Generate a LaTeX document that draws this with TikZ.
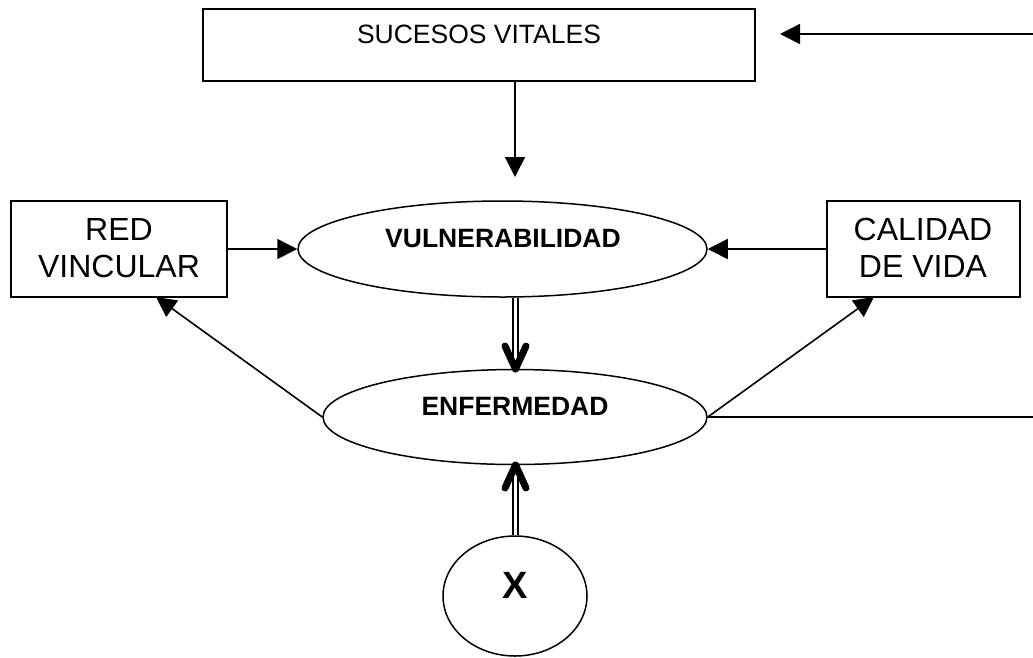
\documentclass[tikz,border=0pt]{standalone}
\usepackage{fontspec}
\setmainfont{Liberation Sans}
\usetikzlibrary{shapes.geometric,arrows.meta}
\begin{document}
\begin{tikzpicture}[x=1pt,y=-1pt,
 box/.style={draw,line width=1.9pt,inner sep=0pt,align=center},
 oval/.style={draw,line width=1.5pt,ellipse,inner sep=0pt},
 lbl/.style={inner sep=0pt,align=center},
 arr/.style={line width=1.6pt,-{Triangle[length=20pt,width=20pt]}},
 plainline/.style={line width=1.6pt},
 dbl/.style={double,double distance=3.4pt,line width=1.8pt},
 vee/.style={line width=7pt,line cap=round,line join=round}]
\useasboundingbox (0,0) rectangle (1033,657);
\node[box,minimum width=552pt,minimum height=72pt] (suc) at (479,45) {};
\node[lbl,font=\fontsize{26.5}{30}\selectfont] (suct) at (479,34) {SUCESOS VITALES};
\node[box,minimum width=216pt,minimum height=96pt] (red) at (119,249) {};
\node[lbl,font=\fontsize{32}{37.5}\selectfont] (redt) at (119,248) {RED\\VINCULAR};
\node[box,minimum width=193pt,minimum height=96pt] (cal) at (923.5,249) {};
\node[lbl,font=\fontsize{32}{37.5}\selectfont] (calt) at (923,248) {CALIDAD\\DE VIDA};
\node[oval,minimum width=409pt,minimum height=96pt] (vul) at (502.5,249) {};
\node[lbl,font=\bfseries\fontsize{26.5}{30}\selectfont] (vult) at (503,239) {VULNERABILIDAD};
\node[oval,minimum width=384pt,minimum height=95pt] (enf) at (515,417) {};
\node[lbl,font=\bfseries\fontsize{26.5}{30}\selectfont] (enft) at (515,406.5) {ENFERMEDAD};
\node[oval,minimum width=144pt,minimum height=120pt] (x) at (515,596) {};
\node[lbl,font=\bfseries\fontsize{38}{42}\selectfont] (xt) at (515.5,585) {X};
\coordinate (c1) at (1033,34);
\coordinate (c3) at (515,177);
\coordinate (c4) at (780,34);
\coordinate (dt) at (515.5,369);
\coordinate (ut) at (515.5,465);
\draw[arr] (c1) -- (c4);
\draw[arr] (suc.south -| c3) -- (c3);
\draw[arr] (red.east) -- (vul.west);
\draw[arr] (cal.west) -- (vul.east);
\draw[dbl] (vul.south -| dt) -- (dt);
\draw[vee] (505,346) -- (dt) -- (526,346);
\draw[dbl] (x.north -| ut) -- (ut);
\draw[vee] (505,488) -- (ut) -- (526,488);
\draw[arr] (enf.west) -- (156,297);
\draw[arr] (enf.east) -- (874,297);
\draw[plainline] (enf.east) -- (enf.east -| c1);
\end{tikzpicture}
\end{document}
